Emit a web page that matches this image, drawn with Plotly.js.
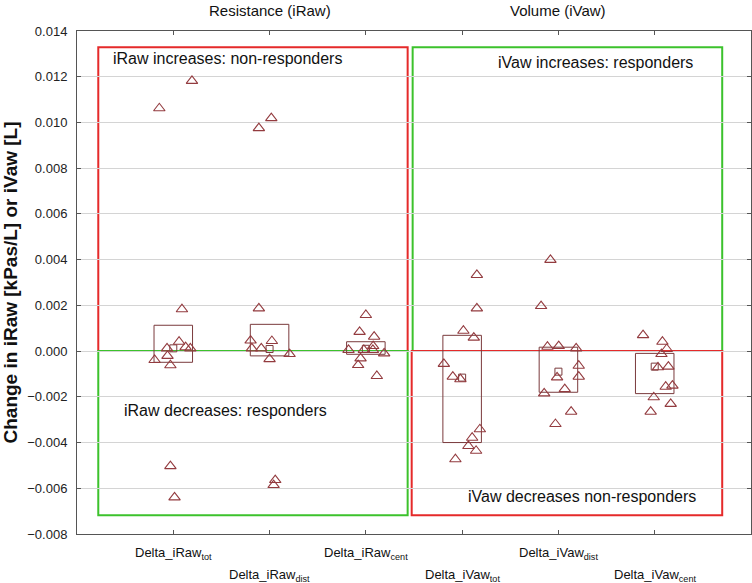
<!DOCTYPE html>
<html>
<head>
<meta charset="utf-8">
<script src="https://cdn.plot.ly/plotly-3.0.1.min.js"></script>
<style>html,body{margin:0;padding:0;background:#fff}#chart{width:752px;height:583px}</style>
</head>
<body>
<div id="chart"></div>
<script>
// ---- data ----
const categories = ['Delta_iRaw', 'Delta_iRaw', 'Delta_iRaw', 'Delta_iVaw', 'Delta_iVaw', 'Delta_iVaw'];
const subscripts = ['tot', 'dist', 'cent', 'tot', 'dist', 'cent'];
const groupTitles = ['Resistance (iRaw)', 'Volume (iVaw)'];

const raw_tot  = [0.01062, 0.01182, 0.00183, 0.00041, 0.00012, 0.00017, 0.00012, -0.00039, -0.00021, -0.00062, -0.00503, -0.0064];
const jit_raw_tot  = [-0.145, 0.194, 0.09, 0.06, -0.065, 0.128, 0.177, -0.194, -0.06, -0.03, -0.03, 0.013];
const raw_dist = [0.00975, 0.01019, 0.00187, 0.00046, 0.00012, 0.00012, 0.00044, -0.00035, -0.00013, -0.00564, -0.00586];
const jit_raw_dist = [-0.111, 0.018, -0.111, -0.197, -0.184, -0.086, 0.024, 0.0, 0.208, 0.059, 0.042];
const raw_cent = [0.00158, 0.00084, 0.00063, 0.00022, 0.00005, 0.00005, 0.00005, -0.0001, -0.00032, -0.00061, -0.00109];
const jit_raw_cent = [0.0, -0.065, 0.086, 0.076, -0.18, -0.021, 0.073, 0.19, -0.055, -0.08, 0.114];
const vaw_tot  = [0.00333, 0.00187, 0.00089, 0.00059, -0.00056, -0.00112, -0.00123, -0.00342, -0.00379, -0.00415, -0.00436, -0.00473];
const jit_vaw_tot  = [0.153, 0.153, 0.013, 0.121, -0.19, -0.097, -0.018, 0.184, 0.104, 0.065, 0.145, -0.07];
const vaw_dist = [0.00399, 0.00197, 0.00019, 0.00022, 0.00012, -0.00064, -0.00112, -0.00115, -0.00166, -0.00185, -0.00265, -0.00319];
const jit_vaw_dist = [-0.083, -0.18, -0.114, 0.003, 0.184, 0.211, 0.211, -0.014, 0.066, -0.148, 0.132, -0.031];
const vaw_cent = [0.0007, 0.00041, 0.00009, -0.00013, -0.00068, -0.00071, -0.00156, -0.00151, -0.00202, -0.00231, -0.00265];
const jit_vaw_cent = [-0.121, 0.08, 0.125, 0.07, 0.142, 0.034, 0.114, 0.184, -0.01, 0.166, -0.042];

const boxQ1   = [-0.00049, -0.00021, -0.00014, -0.0040, -0.0018, -0.00186];
const boxQ3   = [0.00113, 0.00117, 0.00041, 0.00069, 0.00017, -0.0001];
const boxMean = [0.00012, 0.00009, 0.0001, -0.00116, -0.0009, -0.00068];

const regionLabels = ['iRaw increases: non-responders', 'iRaw decreases: responders', 'iVaw increases: responders', 'iVaw decreases non-responders'];

// ---- build ----
const FONT = 'Liberation Sans, Arial, sans-serif';
const MARK = '#933b3f';
const BOXC = '#7a3a3c';
const RED = '#e52a2a';
const GREEN = '#3cc22c';

const groups = [
  [raw_tot, jit_raw_tot], [raw_dist, jit_raw_dist], [raw_cent, jit_raw_cent],
  [vaw_tot, jit_vaw_tot], [vaw_dist, jit_vaw_dist], [vaw_cent, jit_vaw_cent]
];
const px = [], py = [];
groups.forEach((g, i) => {
  g[0].forEach((v, k) => { px.push(i + g[1][k]); py.push(v); });
});

const hw = 0.2;
const bx = [], by = [];
boxQ1.forEach((q1, i) => {
  const q3 = boxQ3[i];
  bx.push(i - hw, i + hw, i + hw, i - hw, i - hw, null);
  by.push(q1, q1, q3, q3, q1, null);
});

const traces = [
  { x: bx, y: by, type: 'scatter', mode: 'lines', line: { color: BOXC, width: 1 }, hoverinfo: 'skip', showlegend: false },
  { x: boxMean.map((_, i) => i), y: boxMean, type: 'scatter', mode: 'markers',
    marker: { symbol: 'square-open', size: 7, color: BOXC, line: { width: 1 } }, showlegend: false },
  { x: px, y: py, type: 'scatter', mode: 'markers',
    marker: { symbol: 'triangle-up-open', size: 10, color: MARK, line: { width: 1.1 } }, showlegend: false }
];

const rect = (x0, x1, y0, y1, c) => ({ type: 'rect', xref: 'x', yref: 'y', x0, x1, y0, y1,
  line: { color: c, width: 2 }, fillcolor: 'rgba(0,0,0,0)', layer: 'below' });

const shapes = [
  rect(-0.779, 2.434, 0, 0.01329, RED),
  rect(-0.779, 2.434, -0.00718, 0, GREEN),
  rect(2.486, 5.701, 0, 0.01329, GREEN),
  rect(2.476, 5.701, -0.00718, 0, RED)
];

const annotations = [];
categories.forEach((c, i) => {
  annotations.push({ x: i, y: 0, xref: 'x', yref: 'paper', yanchor: 'middle', xanchor: 'center',
    yshift: (i % 2 === 0) ? -19 : -41, showarrow: false,
    text: c + '<sub>' + subscripts[i] + '</sub>', font: { family: FONT, size: 13, color: '#111' } });
});
annotations.push({ x: 1, y: 1, xref: 'x', yref: 'paper', yanchor: 'middle', yshift: 21, showarrow: false,
  text: groupTitles[0], font: { family: FONT, size: 15, color: '#111' } });
annotations.push({ x: 4, y: 1, xref: 'x', yref: 'paper', yanchor: 'middle', yshift: 21, showarrow: false,
  text: groupTitles[1], font: { family: FONT, size: 15, color: '#111' } });
const regPos = [[-0.65, 0.01281], [-0.536, -0.00261], [3.351, 0.01264], [3.04, -0.00638]];
regionLabels.forEach((t, i) => {
  annotations.push({ x: regPos[i][0], y: regPos[i][1], xref: 'x', yref: 'y', xanchor: 'left', yanchor: 'middle',
    showarrow: false, text: t, font: { family: FONT, size: 16, color: '#111' } });
});

const layout = {
  width: 752, height: 583,
  margin: { l: 77, r: 1, t: 31, b: 49 },
  paper_bgcolor: '#fff', plot_bgcolor: '#fff',
  font: { family: FONT, size: 13, color: '#222' },
  xaxis: { range: [-1, 6], tickvals: [0, 1, 2, 3, 4, 5], showticklabels: false,
    ticks: 'inside', ticklen: 4, tickcolor: '#555', showline: true, mirror: 'ticks', linecolor: '#555', linewidth: 1,
    showgrid: false, zeroline: false, fixedrange: true },
  yaxis: { range: [-0.008, 0.014], tick0: 0, dtick: 0.002, tickformat: '.3f',
    ticks: 'inside', ticklen: 4, tickcolor: '#555', showline: true, mirror: 'ticks', linecolor: '#555', linewidth: 1,
    showgrid: true, gridcolor: '#d4d4d4', zeroline: false, ticklabelstandoff: 6,
    tickfont: { family: FONT, size: 13, color: '#222' },
    title: { text: '<b>Change in iRaw [kPas/L] or iVaw [L]</b>', font: { family: FONT, size: 19, color: '#111' }, standoff: 6 } },
  shapes, annotations, showlegend: false
};

Plotly.newPlot('chart', traces, layout, { displayModeBar: false, staticPlot: true });
</script>
</body>
</html>
